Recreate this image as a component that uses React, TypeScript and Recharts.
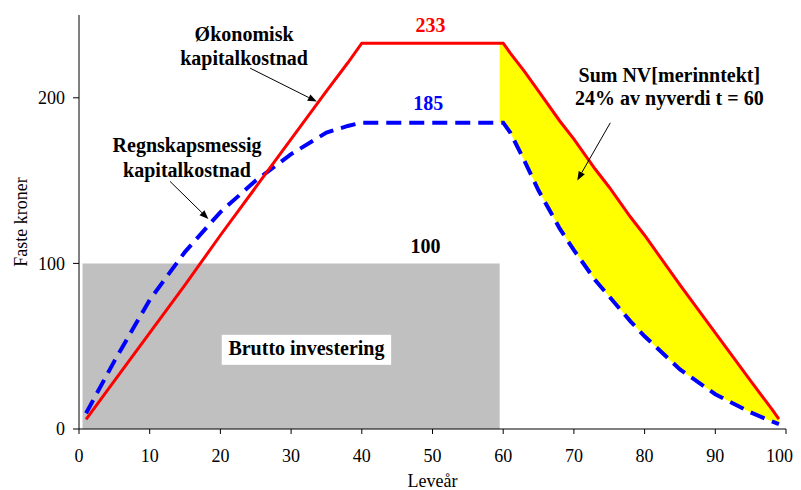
import { ComposedChart, Line, Area, XAxis, YAxis, ReferenceDot, ReferenceLine } from "recharts";

// years of rising cost, plateau ends at 40
const riseYears = [1, 5, 10, 15, 20, 25, 30, 35, 38, 40];
const redRise = [5.8, 29, 58, 87, 117, 146, 175, 204, 221, 233];
const blueRise = [9.5, 41, 78, 107, 131, 150, 166, 179, 183, 185];

// falling part after year 60
const fallYears = [59.5, 60, 61, 63, 65, 68, 70, 73, 75, 78, 80, 85, 90, 95, 98, 99];
const redFall = [233, 233, 227, 216, 204, 186, 175, 157, 146, 128, 117, 87, 58, 29, 12, 6];
const blueFall = [185, 185, 179, 162, 144, 121, 108, 90, 80, 65, 56, 36, 21, 10, 4.6, 3];

// gross investment block
const investYears = [0.5, 59.5];
const investAmount = [100, 100];

const xTicks = [0, 10, 20, 30, 40, 50, 60, 70, 80, 90, 100];
const yTicks = [0, 100, 200];

const redPeak = Math.max(...redRise);
const bluePeak = Math.max(...blueRise);

const redLine = [
  ...riseYears.map((t, i) => ({ t, v: redRise[i] })),
  ...fallYears.map((t, i) => ({ t, v: redFall[i] })),
];
const blueLine = [
  ...riseYears.map((t, i) => ({ t, v: blueRise[i] })),
  ...fallYears.map((t, i) => ({ t, v: blueFall[i] })),
];
const npvBand = fallYears.map((t, i) => ({ t, band: [blueFall[i], redFall[i]] }));
const investData = investYears.map((t, i) => ({ t, v: investAmount[i] }));

const FONT = "'Liberation Serif', 'Times New Roman', serif";

function arrowShape(p: any) {
  const { x1, y1, x2, y2 } = p;
  const a = Math.atan2(y2 - y1, x2 - x1);
  const len = 9;
  const w = 3.5;
  const bx = x2 - len * Math.cos(a);
  const by = y2 - len * Math.sin(a);
  const pts = `${x2},${y2} ${bx + w * Math.sin(a)},${by - w * Math.cos(a)} ${bx - w * Math.sin(a)},${by + w * Math.cos(a)}`;
  return (
    <g>
      <line x1={x1} y1={y1} x2={bx} y2={by} stroke="#000" strokeWidth={1} />
      <polygon points={pts} fill="#000" />
    </g>
  );
}

function note(lines: string[], color = "#000", gap = 23.3) {
  return (p: any) => (
    <text x={p.cx} y={p.cy} textAnchor="middle" fontFamily={FONT} fontWeight="bold" fontSize={20} fill={color}>
      {lines.map((l, i) => (
        <tspan key={i} x={p.cx} dy={i === 0 ? 0 : gap}>
          {l}
        </tspan>
      ))}
    </text>
  );
}

function boxedNote(p: any) {
  return (
    <g>
      <rect x={p.cx - 84.7} y={p.cy - 20} width={169.4} height={30} fill="#fff" />
      <text x={p.cx} y={p.cy} textAnchor="middle" fontFamily={FONT} fontWeight="bold" fontSize={20} fill="#000">
        Brutto investering
      </text>
    </g>
  );
}

export default function App() {
  return (
    <ComposedChart
      width={785}
      height={482}
      margin={{ top: 7, right: 7, left: 11, bottom: 1 }}
      style={{ fontFamily: FONT }}
    >
      <XAxis
        dataKey="t"
        type="number"
        domain={[0, 100]}
        ticks={xTicks}
        allowDuplicatedCategory={false}
        height={60}
        tickSize={5}
        tickMargin={15}
        stroke="#000"
        tick={{ fontSize: 18, fill: "#000", fontFamily: FONT }}
        label={{
          content: ({ viewBox }: any) => (
            <text x={viewBox.x + viewBox.width / 2} y={viewBox.y + 57.5} textAnchor="middle" fontSize={18} fontFamily={FONT} fill="#000">
              Leveår
            </text>
          ),
        }}
      />
      <YAxis
        type="number"
        domain={[0, 250]}
        ticks={yTicks}
        width={60}
        tickSize={6}
        tickMargin={8}
        stroke="#000"
        tick={{ fontSize: 18, fill: "#000", fontFamily: FONT }}
        label={{
          content: ({ viewBox }: any) => {
            const x = viewBox.x + 7.7;
            const y = viewBox.y + viewBox.height / 2;
            return (
              <text x={x} y={y} transform={`rotate(-90, ${x}, ${y})`} textAnchor="middle" fontSize={18} fontFamily={FONT} fill="#000">
                Faste kroner
              </text>
            );
          },
        }}
      />
      <Area data={investData} dataKey="v" type="linear" stroke="none" fill="#c0c0c0" fillOpacity={1} baseValue={0} isAnimationActive={false} dot={false} activeDot={false} />
      <Area data={npvBand} dataKey="band" type="linear" stroke="none" fill="#ffff00" fillOpacity={1} isAnimationActive={false} dot={false} activeDot={false} />
      <Line data={blueLine} dataKey="v" type="linear" stroke="#0000ff" strokeWidth={4} strokeDasharray="15 8" dot={false} activeDot={false} isAnimationActive={false} />
      <Line data={redLine} dataKey="v" type="linear" stroke="#ff0000" strokeWidth={3} dot={false} activeDot={false} isAnimationActive={false} />

      <ReferenceLine segment={[{ x: 24.2, y: 217.9 }, { x: 33.64, y: 197.7 }]} shape={arrowShape} />
      <ReferenceLine segment={[{ x: 12.88, y: 149.5 }, { x: 18.3, y: 126.8 }]} shape={arrowShape} />
      <ReferenceLine segment={[{ x: 75.15, y: 184.9 }, { x: 70.48, y: 150.1 }]} shape={arrowShape} />

      <ReferenceDot x={23.35} y={234} r={0} shape={note(["Økonomisk", "kapitalkostnad"])} />
      <ReferenceDot x={15.28} y={167.2} r={0} shape={note(["Regnskapsmessig", "kapitalkostnad"], "#000", 25)} />
      <ReferenceDot x={49.7} y={240} r={0} shape={note([String(redPeak)], "#ff0000")} />
      <ReferenceDot x={49.4} y={192.7} r={0} shape={note([String(bluePeak)], "#0000ff")} />
      <ReferenceDot x={49.0} y={106.2} r={0} shape={note([String(investAmount[0])])} />
      <ReferenceDot x={32.17} y={44.8} r={0} shape={boxedNote} />
      <ReferenceDot x={83.5} y={209.8} r={0} shape={note(["Sum NV[merinntekt]", "24% av nyverdi t = 60"])} />
    </ComposedChart>
  );
}
